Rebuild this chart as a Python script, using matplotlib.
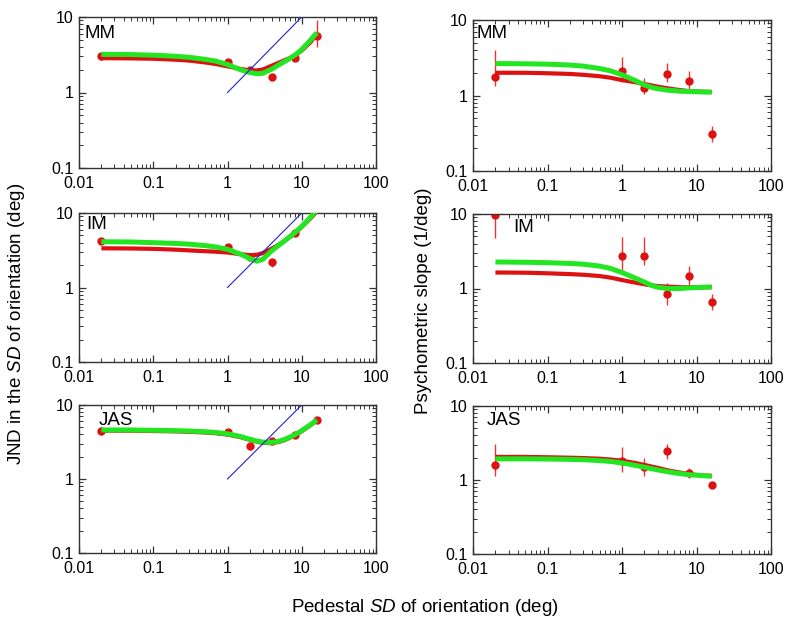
import matplotlib
matplotlib.use("Agg")
import matplotlib.pyplot as plt
from matplotlib.ticker import LogLocator, FixedLocator, FixedFormatter, NullFormatter

plt.rcParams["font.family"] = ["Liberation Sans", "DejaVu Sans"]
plt.rcParams["mathtext.fontset"] = "custom"
plt.rcParams["mathtext.rm"] = "Liberation Sans"
plt.rcParams["mathtext.it"] = "Liberation Sans:italic"

# pedestal SDs (deg)
ped = [0.02, 1, 2, 4, 8, 16]

# JND data with error bar ends
jnd_mm = [3.0, 2.5, 2.0, 1.62, 2.85, 5.6]
jnd_mm_lo = [2.7, 2.35, 1.9, 1.55, 2.7, 4.05]
jnd_mm_hi = [3.3, 2.7, 2.1, 1.7, 3.0, 9.1]
jnd_im = [4.2, 3.45, 2.55, 2.2, 5.4, 13.0]
jnd_im_lo = [4.0, 3.3, 2.4, 1.9, 5.0, 11.0]
jnd_im_hi = [4.4, 3.6, 2.7, 2.4, 5.8, 15.0]
jnd_jas = [4.5, 4.3, 2.75, 3.25, 3.95, 6.3]
jnd_jas_lo = [4.0, 4.0, 2.5, 3.1, 3.8, 6.0]
jnd_jas_hi = [5.0, 4.6, 3.0, 3.4, 4.1, 6.6]

# psychometric slope data
slp_mm = [1.77, 2.1, 1.24, 1.92, 1.55, 0.31]
slp_mm_lo = [1.33, 1.5, 1.04, 1.5, 1.15, 0.24]
slp_mm_hi = [4.0, 3.25, 1.73, 2.7, 2.1, 0.4]
slp_im = [9.7, 2.74, 2.74, 0.84, 1.45, 0.66]
slp_im_lo = [4.7, 1.78, 2.07, 0.6, 1.12, 0.52]
slp_im_hi = [12.0, 4.97, 4.9, 1.18, 2.0, 0.84]
slp_jas = [1.6, 1.78, 1.5, 2.43, 1.26, 0.86]
slp_jas_lo = [1.13, 1.3, 1.15, 1.95, 1.05, 0.78]
slp_jas_hi = [3.05, 2.75, 2.0, 3.1, 1.45, 0.95]

# model fits
fit_x = [0.02, 0.05, 0.1, 0.2, 0.3, 0.5, 0.7, 1, 1.5, 2, 2.5, 3, 4, 5, 6, 8, 10, 13, 16]

jnd_mm_red = [2.85, 2.83, 2.8, 2.72, 2.65, 2.5, 2.38, 2.22, 2.05, 1.96, 1.96, 2.02, 2.28, 2.5, 2.7, 3.05, 3.6, 4.6, 5.9]
jnd_mm_grn = [3.2, 3.18, 3.12, 3.02, 2.93, 2.75, 2.6, 2.35, 2.0, 1.84, 1.77, 1.8, 2.05, 2.35, 2.6, 3.1, 3.7, 4.9, 6.2]
jnd_im_red = [3.36, 3.34, 3.3, 3.22, 3.15, 3.07, 3.02, 2.95, 2.8, 2.72, 2.75, 2.9, 3.35, 3.8, 4.3, 5.3, 6.5, 8.4, 10.5]
jnd_im_grn = [4.12, 4.08, 4.0, 3.9, 3.82, 3.65, 3.5, 3.25, 2.8, 2.45, 2.25, 2.4, 3.15, 3.75, 4.3, 5.4, 6.6, 8.7, 11.0]
jnd_jas_red = [4.5, 4.5, 4.45, 4.4, 4.35, 4.25, 4.15, 3.98, 3.67, 3.38, 3.18, 3.08, 3.05, 3.18, 3.38, 3.88, 4.42, 5.3, 6.2]
jnd_jas_grn = [4.6, 4.6, 4.55, 4.5, 4.45, 4.35, 4.25, 4.08, 3.75, 3.45, 3.25, 3.15, 3.12, 3.25, 3.45, 3.95, 4.5, 5.4, 6.3]

slp_mm_red = [2.0, 2.0, 1.97, 1.93, 1.88, 1.8, 1.72, 1.6, 1.5, 1.42, 1.36, 1.31, 1.25, 1.21, 1.18, 1.14, 1.13, 1.12, 1.11]
slp_mm_grn = [2.65, 2.63, 2.6, 2.53, 2.45, 2.28, 2.12, 1.88, 1.58, 1.38, 1.28, 1.23, 1.18, 1.16, 1.14, 1.13, 1.12, 1.11, 1.11]
slp_im_red = [1.64, 1.63, 1.6, 1.56, 1.53, 1.47, 1.4, 1.3, 1.2, 1.14, 1.1, 1.08, 1.06, 1.05, 1.04, 1.04, 1.04, 1.04, 1.04]
slp_im_grn = [2.27, 2.25, 2.22, 2.17, 2.12, 2.0, 1.86, 1.64, 1.38, 1.22, 1.1, 1.04, 1.0, 1.0, 1.0, 1.02, 1.03, 1.04, 1.05]
slp_jas_red = [2.05, 2.05, 2.03, 2.0, 1.98, 1.94, 1.89, 1.82, 1.7, 1.6, 1.52, 1.46, 1.36, 1.3, 1.26, 1.2, 1.17, 1.15, 1.14]
slp_jas_grn = [1.93, 1.93, 1.92, 1.9, 1.88, 1.83, 1.78, 1.7, 1.58, 1.49, 1.42, 1.37, 1.3, 1.25, 1.22, 1.18, 1.16, 1.14, 1.12]

# reference line y = x
ref_x = [1, 10]
ref_y = [1, 10]

RED = "#dd1111"
GREEN = "#22e622"
BLUE = "#2222cc"

fig = plt.figure(figsize=(8, 6.31), dpi=100)
W, H = 800.0, 631.0


def make_axes(left, right, top, bottom):
    return fig.add_axes([left / W, 1 - bottom / H, (right - left) / W, (bottom - top) / H])


def style_axes(ax):
    ax.set_xscale("log")
    ax.set_yscale("log")
    ax.set_xlim(0.01, 100)
    ax.set_ylim(0.1, 10)
    ax.xaxis.set_major_locator(FixedLocator([0.01, 0.1, 1, 10, 100]))
    ax.xaxis.set_major_formatter(FixedFormatter(["0.01", "0.1", "1", "10", "100"]))
    ax.yaxis.set_major_locator(FixedLocator([0.1, 1, 10]))
    ax.yaxis.set_major_formatter(FixedFormatter(["0.1", "1", "10"]))
    for axis in (ax.xaxis, ax.yaxis):
        axis.set_minor_locator(LogLocator(base=10, subs=range(2, 10), numticks=20))
        axis.set_minor_formatter(NullFormatter())
    ax.tick_params(which="both", direction="in", top=True, right=True,
                   color="#333333", labelsize=11.5, labelcolor="black")
    ax.tick_params(which="major", length=5, width=0.9)
    ax.tick_params(which="minor", length=2.8, width=0.7)
    ax.tick_params(axis="x", pad=6)
    ax.tick_params(axis="y", pad=4)
    for sp in ax.spines.values():
        sp.set_color("#333333")
        sp.set_linewidth(1.0)


def draw_panel(ax, y, lo, hi, red, grn, name, lx, ly, ref=False):
    yerr = [[v - l for v, l in zip(y, lo)], [h - v for v, h in zip(y, hi)]]
    ax.errorbar(ped, y, yerr=yerr, fmt="o", color=RED, ms=5, ecolor="#ee3333",
                elinewidth=1.0, capsize=0, zorder=2)
    ax.plot(fit_x, red, color=RED, lw=3.0, solid_capstyle="butt", zorder=3)
    ax.plot(fit_x, grn, color=GREEN, lw=3.6, solid_capstyle="butt", zorder=4)
    if ref:
        ax.plot(ref_x, ref_y, color=BLUE, lw=0.8, zorder=5)
    ax.text(lx, ly, name, transform=ax.transAxes, fontsize=13.5, ha="left", va="baseline")
    style_axes(ax)


left_rows = [(17, 168), (213, 362), (405, 553)]
right_rows = [(20, 171), (214, 363), (406, 554)]

jnd_sets = [
    (jnd_mm, jnd_mm_lo, jnd_mm_hi, jnd_mm_red, jnd_mm_grn, "MM", 0.017, 0.861),
    (jnd_im, jnd_im_lo, jnd_im_hi, jnd_im_red, jnd_im_grn, "IM", 0.024, 0.893),
    (jnd_jas, jnd_jas_lo, jnd_jas_hi, jnd_jas_red, jnd_jas_grn, "JAS", 0.067, 0.865),
]
slp_sets = [
    (slp_mm, slp_mm_lo, slp_mm_hi, slp_mm_red, slp_mm_grn, "MM", 0.013, 0.88),
    (slp_im, slp_im_lo, slp_im_hi, slp_im_red, slp_im_grn, "IM", 0.134, 0.879),
    (slp_jas, slp_jas_lo, slp_jas_hi, slp_jas_red, slp_jas_grn, "JAS", 0.047, 0.872),
]

for (top, bot), s in zip(left_rows, jnd_sets):
    ax = make_axes(79, 376, top, bot)
    draw_panel(ax, *s, ref=True)

for (top, bot), s in zip(right_rows, slp_sets):
    ax = make_axes(473, 771, top, bot)
    draw_panel(ax, *s)

fig.text(0.021, 0.487, r"JND in the $\mathit{SD}$ of orientation (deg)", rotation=90,
         ha="center", va="center", fontsize=13.5)
fig.text(0.529, 0.523, "Psychometric slope (1/deg)", rotation=90,
         ha="center", va="center", fontsize=13.5)
fig.text(0.531, 0.038, r"Pedestal $\mathit{SD}$ of orientation (deg)",
         ha="center", va="center", fontsize=13.5)

fig.savefig("out.png", dpi=100)
